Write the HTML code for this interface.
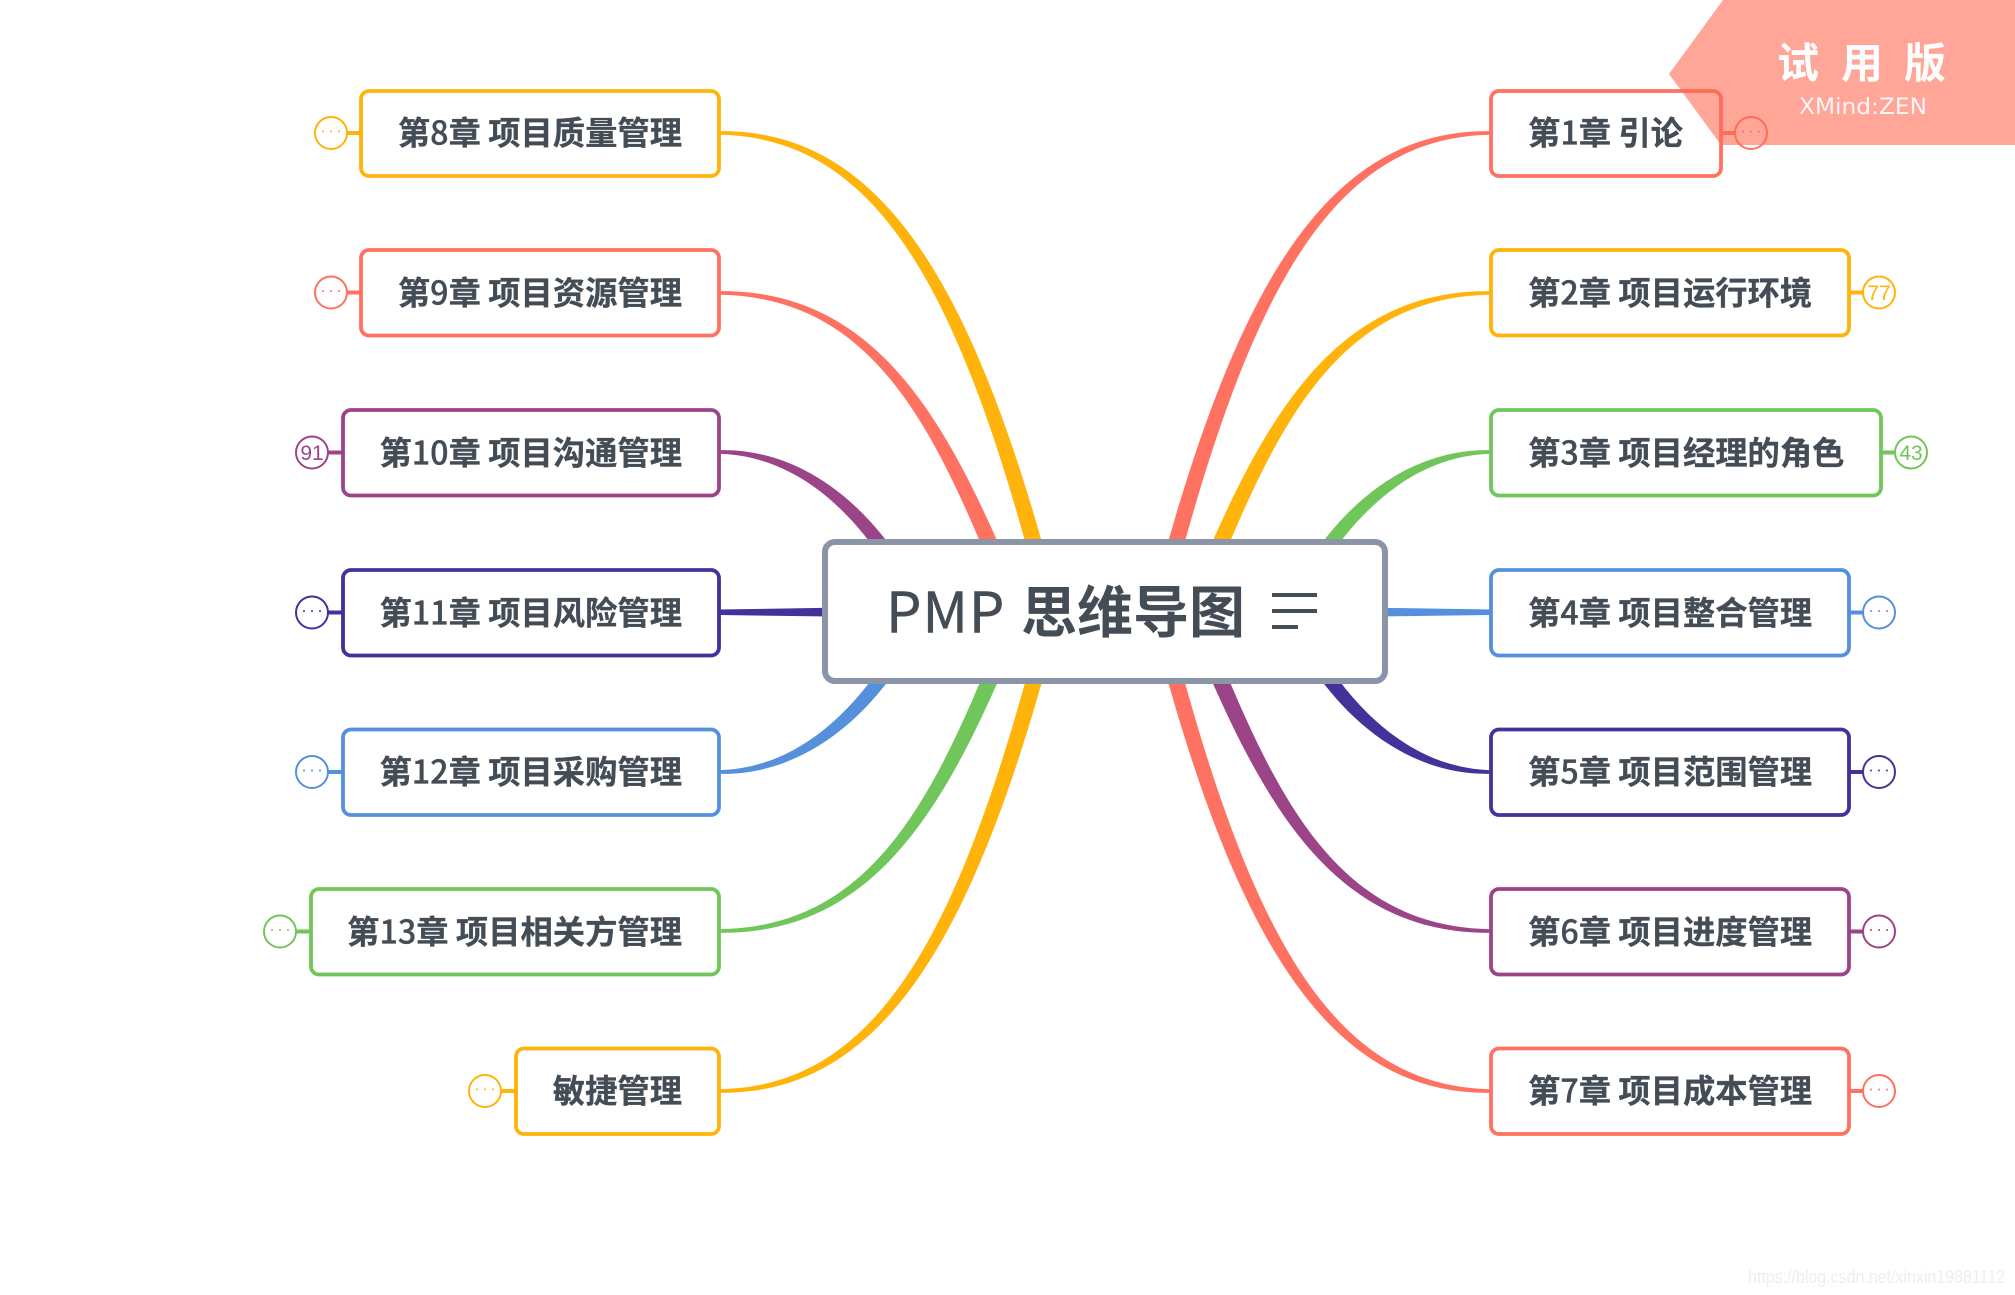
<!DOCTYPE html>
<html>
<head>
<meta charset="utf-8">
<style>
html,body{margin:0;padding:0;background:#fff;width:2015px;height:1295px;overflow:hidden}
svg{display:block}
.l{font-family:"Noto Sans CJK SC","Liberation Sans",sans-serif;font-size:32.3px;font-weight:700;fill:#444d56;stroke:#444d56;stroke-width:.3}
.d{font-weight:500}
.n{font-family:"Liberation Sans",sans-serif;font-size:21px;text-anchor:middle}
.b{fill:#fff;stroke-width:3.8}
.c{fill:#fff;stroke-width:2}
.k{stroke-width:4;fill:none}
</style>
</head>
<body>
<svg xmlns="http://www.w3.org/2000/svg" width="2015" height="1295" viewBox="0 0 2015 1295">
<rect width="2015" height="1295" fill="#fff"/>

<!-- right branches -->
<path fill="#FF7160" d="M1163.9,556.8 L1169.3,537.8 C1246.5,268.4 1336.75,129.1 1491,131.2 L1491,134.8 C1341.25,136.9 1259.5,273.6 1184.7,542.2 L1179.3,561.2 Z"/>
<path fill="#FFB30B" d="M1206.6,555.2 L1214.6,536.8 C1276.2,399 1347.1,289.5 1491,291.2 L1491,294.8 C1350.9,296.5 1287.8,405 1229.4,543.2 L1221.4,561.6 Z"/>
<path fill="#70C65A" d="M1315.1,551.3 L1327.5,535.7 C1372,480.6 1429,448.6 1491,450.2 L1491,453.8 C1431,455.4 1380,489.4 1338.5,544.3 L1326.1,559.9 Z"/>
<path fill="#5590DC" d="M1380,607.8 L1491,609.5 L1491,615 L1380,616.5 Z"/>
<g transform="matrix(1 0 0 -1 0 1224)">
<path fill="#43329A" d="M1315.1,551.3 L1327.5,535.7 C1372,480.6 1429,448.6 1491,450.2 L1491,453.8 C1431,455.4 1380,489.4 1338.5,544.3 L1326.1,559.9 Z"/>
<path fill="#9C4488" d="M1206.6,555.2 L1214.6,536.8 C1276.2,399 1347.1,289.5 1491,291.2 L1491,294.8 C1350.9,296.5 1287.8,405 1229.4,543.2 L1221.4,561.6 Z"/>
<path fill="#FF7160" d="M1163.9,556.8 L1169.3,537.8 C1246.5,268.4 1336.75,129.1 1491,131.2 L1491,134.8 C1341.25,136.9 1259.5,273.6 1184.7,542.2 L1179.3,561.2 Z"/>
</g>

<!-- left branches -->
<g transform="matrix(-1 0 0 1 2210 0)">
<path fill="#FFB30B" d="M1163.9,556.8 L1169.3,537.8 C1246.5,268.4 1336.75,129.1 1491,131.2 L1491,134.8 C1341.25,136.9 1259.5,273.6 1184.7,542.2 L1179.3,561.2 Z"/>
<path fill="#FF7160" d="M1206.6,555.2 L1214.6,536.8 C1276.2,399 1347.1,289.5 1491,291.2 L1491,294.8 C1350.9,296.5 1287.8,405 1229.4,543.2 L1221.4,561.6 Z"/>
<path fill="#9C4488" d="M1315.1,551.3 L1327.5,535.7 C1372,480.6 1429,448.6 1491,450.2 L1491,453.8 C1431,455.4 1380,489.4 1338.5,544.3 L1326.1,559.9 Z"/>
<path fill="#43329A" d="M1380,607.8 L1491,609.5 L1491,615 L1380,616.5 Z"/>
</g>
<g transform="matrix(-1 0 0 -1 2210 1224)">
<path fill="#5590DC" d="M1315.1,551.3 L1327.5,535.7 C1372,480.6 1429,448.6 1491,450.2 L1491,453.8 C1431,455.4 1380,489.4 1338.5,544.3 L1326.1,559.9 Z"/>
<path fill="#70C65A" d="M1206.6,555.2 L1214.6,536.8 C1276.2,399 1347.1,289.5 1491,291.2 L1491,294.8 C1350.9,296.5 1287.8,405 1229.4,543.2 L1221.4,561.6 Z"/>
<path fill="#FFB30B" d="M1163.9,556.8 L1169.3,537.8 C1246.5,268.4 1336.75,129.1 1491,131.2 L1491,134.8 C1341.25,136.9 1259.5,273.6 1184.7,542.2 L1179.3,561.2 Z"/>
</g>

<!-- center -->
<rect x="825" y="542" width="560" height="139" rx="10" fill="#fff" stroke="#8A96A8" stroke-width="6"/>
<text x="886" y="632.5" font-family="'Noto Sans CJK SC','Liberation Sans',sans-serif" font-size="56" font-weight="400" fill="#444d56" stroke="#444d56" stroke-width=".5" letter-spacing="1">PMP</text>
<text x="1021" y="632.5" font-family="'Noto Sans CJK SC','Liberation Sans',sans-serif" font-size="56" font-weight="700" fill="#444d56">思维导图</text>
<rect x="1272" y="593" width="45" height="4" fill="#444d56"/>
<rect x="1272" y="609" width="45" height="4" fill="#444d56"/>
<rect x="1272" y="625" width="26" height="4" fill="#444d56"/>

<!-- right topics -->
<g stroke="#FF7160"><path class="k" d="M1722,133H1735"/><circle class="c" cx="1751" cy="133" r="16"/><rect class="b" x="1491" y="91" width="230" height="85" rx="8"/></g>
<circle cx="1743" cy="131.5" r="1" fill="#FF7160"/><circle cx="1751" cy="131.5" r="1" fill="#FF7160"/><circle cx="1759" cy="131.5" r="1" fill="#FF7160"/>
<text class="l" x="1528" y="144.5">第<tspan class="d">1</tspan>章 引论</text>

<g stroke="#FFB30B"><path class="k" d="M1849,292.5H1863"/><circle class="c" cx="1879" cy="292.5" r="16"/><rect class="b" x="1491" y="250" width="358" height="85.5" rx="8"/></g>
<text class="n" x="1879" y="300" fill="#FFB30B">77</text>
<text class="l" x="1528" y="304.5">第<tspan class="d">2</tspan>章 项目运行环境</text>

<g stroke="#70C65A"><path class="k" d="M1881,452.5H1895"/><circle class="c" cx="1911" cy="452.5" r="16"/><rect class="b" x="1491" y="410" width="390" height="85.5" rx="8"/></g>
<text class="n" x="1911" y="460" fill="#70C65A">43</text>
<text class="l" x="1528" y="464.5">第<tspan class="d">3</tspan>章 项目经理的角色</text>

<g stroke="#5590DC"><path class="k" d="M1849,612.5H1863"/><circle class="c" cx="1879" cy="612.5" r="16"/><rect class="b" x="1491" y="570" width="358" height="85.5" rx="8"/></g>
<g fill="#5590DC"><circle cx="1871" cy="611" r="1"/><circle cx="1879" cy="611" r="1"/><circle cx="1887" cy="611" r="1"/></g>
<text class="l" x="1528" y="624.5">第<tspan class="d">4</tspan>章 项目整合管理</text>

<g stroke="#43329A"><path class="k" d="M1849,772H1863"/><circle class="c" cx="1879" cy="772" r="16"/><rect class="b" x="1491" y="729.5" width="358" height="85.5" rx="8"/></g>
<g fill="#43329A"><circle cx="1871" cy="770.5" r="1"/><circle cx="1879" cy="770.5" r="1"/><circle cx="1887" cy="770.5" r="1"/></g>
<text class="l" x="1528" y="783.5">第<tspan class="d">5</tspan>章 项目范围管理</text>

<g stroke="#9C4488"><path class="k" d="M1849,931.5H1863"/><circle class="c" cx="1879" cy="931.5" r="16"/><rect class="b" x="1491" y="889" width="358" height="85.5" rx="8"/></g>
<g fill="#9C4488"><circle cx="1871" cy="930" r="1"/><circle cx="1879" cy="930" r="1"/><circle cx="1887" cy="930" r="1"/></g>
<text class="l" x="1528" y="943.5">第<tspan class="d">6</tspan>章 项目进度管理</text>

<g stroke="#FF7160"><path class="k" d="M1849,1091H1863"/><circle class="c" cx="1879" cy="1091" r="16"/><rect class="b" x="1491" y="1048.5" width="358" height="85.5" rx="8"/></g>
<g fill="#FF7160"><circle cx="1871" cy="1089.5" r="1"/><circle cx="1879" cy="1089.5" r="1"/><circle cx="1887" cy="1089.5" r="1"/></g>
<text class="l" x="1528" y="1102.5">第<tspan class="d">7</tspan>章 项目成本管理</text>

<!-- left topics -->
<g stroke="#FFB30B"><path class="k" d="M347,133H361"/><circle class="c" cx="331" cy="133" r="16"/><rect class="b" x="361" y="91" width="358" height="85" rx="8"/></g>
<g fill="#FFB30B"><circle cx="323" cy="131.5" r="1"/><circle cx="331" cy="131.5" r="1"/><circle cx="339" cy="131.5" r="1"/></g>
<text class="l" x="682" y="144.5" text-anchor="end">第<tspan class="d">8</tspan>章 项目质量管理</text>

<g stroke="#FF7160"><path class="k" d="M347,292.5H361"/><circle class="c" cx="331" cy="292.5" r="16"/><rect class="b" x="361" y="250" width="358" height="85.5" rx="8"/></g>
<g fill="#FF7160"><circle cx="323" cy="291" r="1"/><circle cx="331" cy="291" r="1"/><circle cx="339" cy="291" r="1"/></g>
<text class="l" x="682" y="304.5" text-anchor="end">第<tspan class="d">9</tspan>章 项目资源管理</text>

<g stroke="#9C4488"><path class="k" d="M328,452.5H342"/><circle class="c" cx="312" cy="452.5" r="16"/><rect class="b" x="343" y="410" width="376" height="85.5" rx="8"/></g>
<text class="n" x="312" y="460" fill="#9C4488">91</text>
<text class="l" x="682" y="464.5" text-anchor="end">第<tspan class="d">10</tspan>章 项目沟通管理</text>

<g stroke="#43329A"><path class="k" d="M328,612.5H342"/><circle class="c" cx="312" cy="612.5" r="16"/><rect class="b" x="343" y="570" width="376" height="85.5" rx="8"/></g>
<g fill="#43329A"><circle cx="304" cy="611" r="1"/><circle cx="312" cy="611" r="1"/><circle cx="320" cy="611" r="1"/></g>
<text class="l" x="682" y="624.5" text-anchor="end">第<tspan class="d">11</tspan>章 项目风险管理</text>

<g stroke="#5590DC"><path class="k" d="M328,772H342"/><circle class="c" cx="312" cy="772" r="16"/><rect class="b" x="343" y="729.5" width="376" height="85.5" rx="8"/></g>
<g fill="#5590DC"><circle cx="304" cy="770.5" r="1"/><circle cx="312" cy="770.5" r="1"/><circle cx="320" cy="770.5" r="1"/></g>
<text class="l" x="682" y="783.5" text-anchor="end">第<tspan class="d">12</tspan>章 项目采购管理</text>

<g stroke="#70C65A"><path class="k" d="M296,931.5H311"/><circle class="c" cx="280" cy="931.5" r="16"/><rect class="b" x="311" y="889" width="408" height="85.5" rx="8"/></g>
<g fill="#70C65A"><circle cx="272" cy="930" r="1"/><circle cx="280" cy="930" r="1"/><circle cx="288" cy="930" r="1"/></g>
<text class="l" x="682" y="943.5" text-anchor="end">第<tspan class="d">13</tspan>章 项目相关方管理</text>

<g stroke="#FFB30B"><path class="k" d="M501,1091H516"/><circle class="c" cx="485" cy="1091" r="16"/><rect class="b" x="516" y="1048.5" width="203" height="85.5" rx="8"/></g>
<g fill="#FFB30B"><circle cx="477" cy="1089.5" r="1"/><circle cx="485" cy="1089.5" r="1"/><circle cx="493" cy="1089.5" r="1"/></g>
<text class="l" x="682" y="1102.5" text-anchor="end">敏捷管理</text>

<!-- trial banner -->
<polygon points="1723,0 2015,0 2015,145 1721,145 1669,74" fill="#FF6B55" fill-opacity="0.6"/>
<g font-family="'Noto Sans CJK SC','Liberation Sans',sans-serif" font-size="42" font-weight="700" fill="#fff" text-anchor="middle">
<text x="1798" y="78">试</text><text x="1862" y="78">用</text><text x="1925" y="78">版</text>
</g>
<text x="1799" y="114" font-family="'DejaVu Sans','Liberation Sans',sans-serif" font-size="22" font-weight="400" fill="#fff" fill-opacity="0.9" textLength="128" lengthAdjust="spacingAndGlyphs">XMind:ZEN</text>

<text x="1748" y="1283" font-family="'Liberation Sans',sans-serif" font-size="18" fill="#eeeeee" textLength="257" lengthAdjust="spacingAndGlyphs">https://blog.csdn.net/xinxin19881112</text>
</svg>
</body>
</html>
